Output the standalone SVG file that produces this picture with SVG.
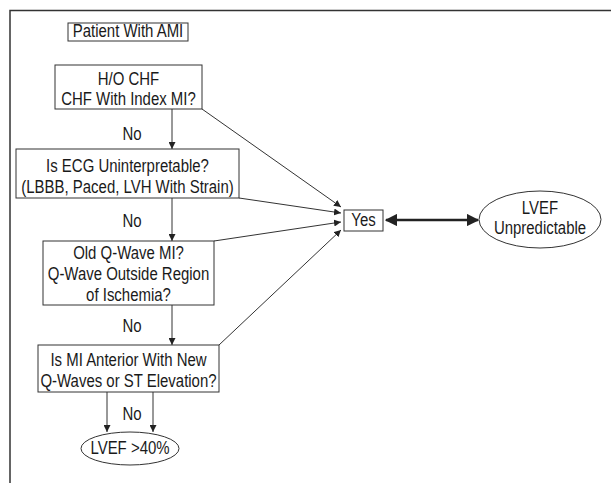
<svg xmlns="http://www.w3.org/2000/svg" width="611" height="483" viewBox="0 0 611 483">
<style>
text{font-family:"Liberation Sans",Arial,sans-serif;font-size:17.5px;fill:#1a1a1a;text-anchor:middle}
.box{fill:#fff;stroke:#333;stroke-width:1}
.ln{fill:none;stroke:#333;stroke-width:1}
.frame{fill:none;stroke:#333;stroke-width:1.5}
</style>
<defs>
<marker id="ah" viewBox="0 0 10 10" refX="10" refY="5" markerWidth="7" markerHeight="7" markerUnits="userSpaceOnUse" orient="auto"><path d="M0,0L10,5L0,10z" fill="#222"/></marker>
<marker id="ahb" viewBox="0 0 10 10" refX="9" refY="5" markerWidth="5" markerHeight="5" orient="auto-start-reverse"><path d="M0,0L10,5L0,10z" fill="#222"/></marker>
</defs>
<path class="frame" d="M10,483V10.5H611"/>
<g id="connectors">
<line class="ln" x1="172" y1="109" x2="172" y2="149" marker-end="url(#ah)"/>
<line class="ln" x1="172" y1="198" x2="172" y2="241" marker-end="url(#ah)"/>
<line class="ln" x1="172" y1="305" x2="172" y2="345" marker-end="url(#ah)"/>
<line class="ln" x1="107" y1="392" x2="107" y2="432" marker-end="url(#ah)"/>
<line class="ln" x1="153" y1="392" x2="153" y2="432" marker-end="url(#ah)"/>
<line class="ln" x1="202" y1="109" x2="341" y2="207" marker-end="url(#ah)"/>
<line class="ln" x1="239" y1="198" x2="341" y2="213" marker-end="url(#ah)"/>
<line class="ln" x1="214" y1="241" x2="341" y2="222" marker-end="url(#ah)"/>
<line class="ln" x1="219" y1="345" x2="341" y2="230" marker-end="url(#ah)"/>
<line x1="386" y1="220" x2="478" y2="220" stroke="#222" stroke-width="2.5" marker-start="url(#ahb)" marker-end="url(#ahb)"/>
<text transform="translate(132,0) scale(0.855,1)" y="140">No</text>
<text transform="translate(132,0) scale(0.855,1)" y="227">No</text>
<text transform="translate(132,0) scale(0.855,1)" y="332">No</text>
<text transform="translate(132,0) scale(0.855,1)" y="420">No</text>
</g>
<g id="n-patient"><rect class="box" x="68" y="23" width="120" height="18"/><text transform="translate(128,0) scale(0.855,1)" y="37.5">Patient With AMI</text></g>
<g id="n-chf"><rect class="box" x="55" y="65" width="147" height="44"/><text transform="translate(128.5,0) scale(0.855,1)" y="85">H/O CHF</text><text transform="translate(128.5,0) scale(0.855,1)" y="105">CHF With Index MI?</text></g>
<g id="n-ecg"><rect class="box" x="16" y="149" width="223" height="49"/><text transform="translate(127.5,0) scale(0.855,1)" y="172">Is ECG Uninterpretable?</text><text transform="translate(127.5,0) scale(0.855,1)" y="193">(LBBB, Paced, LVH With Strain)</text></g>
<g id="n-qwave"><rect class="box" x="43" y="241" width="171" height="64"/><text transform="translate(128.5,0) scale(0.855,1)" y="259">Old Q-Wave MI?</text><text transform="translate(128.5,0) scale(0.855,1)" y="280">Q-Wave Outside Region</text><text transform="translate(128.5,0) scale(0.855,1)" y="301">of Ischemia?</text></g>
<g id="n-anterior"><rect class="box" x="38" y="345" width="181" height="47"/><text transform="translate(128.5,0) scale(0.855,1)" y="366">Is MI Anterior With New</text><text transform="translate(128.5,0) scale(0.855,1)" y="387">Q-Waves or ST Elevation?</text></g>
<g id="n-lvef40"><ellipse class="box" cx="130" cy="448.5" rx="49" ry="16.5"/><text transform="translate(130,0) scale(0.855,1)" y="454.5">LVEF &gt;40%</text></g>
<g id="n-yes"><rect class="box" x="344" y="210" width="39" height="21"/><text transform="translate(363.5,0) scale(0.855,1)" y="226">Yes</text></g>
<g id="n-unpred"><ellipse class="box" cx="540" cy="219.5" rx="61" ry="28.5"/><text transform="translate(540,0) scale(0.855,1)" y="214">LVEF</text><text transform="translate(540,0) scale(0.855,1)" y="234">Unpredictable</text></g>
</svg>
